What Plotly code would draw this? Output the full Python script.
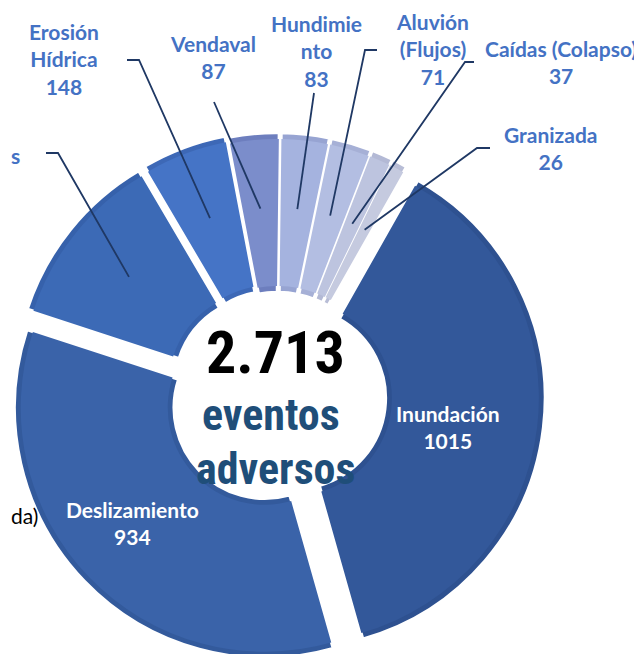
import numpy as np
import plotly.graph_objects as go

# ---------------- data ----------------
categories = ["Inundación", "Deslizamiento", "…s", "Erosión Hídrica", "Vendaval",
              "Hundimiento", "Aluvión (Flujos)", "Caídas (Colapso)", "Granizada"]
values = [1015, 934, 312, 148, 87, 83, 71, 37, 26]
display_names = ["Inundación", "Deslizamiento", "s", "Erosión<br>Hídrica", "Vendaval",
                 "Hundimie<br>nto", "Aluvión<br>(Flujos)", "Caídas (Colapso)", "Granizada"]
total_text = "2.713"
center_lines = ["eventos", "adversos"]
cut_text = "da)"

# ---------------- style / layout ----------------
OFF = 8                    # page body margin (px)
W, H = 642, 672
CX, CY = 277, 396          # pie centre (screen px)
R = 250                    # outer radius (px)
R_IN = 91                  # inner radius (px)
BORDER = 6
ROT = 29.5
pull_px = [18, 17, 15, 15, 13, 13, 13, 13, 13]
dark = ['#2E5190', '#335A9C', '#3661AB', '#3D68B6', '#6D7EBE', '#97A4D2', '#A6B0D6', '#B3B9D5', '#B8BDD6']
light = ['#33589A', '#3A63A9', '#3C6AB6', '#4574C6', '#7B8DCB', '#A5B3DF', '#B3BEE2', '#BDC4DF', '#C5CADF']
LABEL_BLUE = '#4472C4'
LEADER = '#1F3864'
FONT = 'Lato'
COND = 'Roboto Condensed, DejaVu Sans Condensed, Liberation Sans Narrow, sans-serif'


def px2paper(x, y):
    return (x - OFF) / W, 1 - (y - OFF) / H


def domain_for(radius, pulls):
    s = radius + max(pulls)
    cx, cy = CX - OFF, CY - OFF
    return dict(x=[(cx - s) / W, (cx + s) / W], y=[1 - (cy + s) / H, 1 - (cy - s) / H])


fig = go.Figure()
# base (border colour)
fig.add_trace(go.Pie(
    labels=categories, values=values, sort=False, direction='clockwise', rotation=ROT,
    hole=R_IN / R, pull=[p / R for p in pull_px], domain=domain_for(R, pull_px),
    marker=dict(colors=dark, line=dict(color='white', width=2.5)),
    textinfo='none', hoverinfo='label+value', showlegend=False))
# inner (lighter face)
R2 = R - BORDER
fig.add_trace(go.Pie(
    labels=categories, values=values, sort=False, direction='clockwise', rotation=ROT,
    hole=(R_IN + BORDER) / R2, pull=[p / R2 for p in pull_px], domain=domain_for(R2, pull_px),
    marker=dict(colors=light, line=dict(width=0)),
    textinfo='none', hoverinfo='label+value', showlegend=False))

# ---------------- leader lines ----------------
vals = np.array(values, dtype=float)
cum = np.cumsum(vals)
mid_deg = ROT + (cum - vals / 2) / vals.sum() * 360
stubs = {
    2: [(46, 153), (58, 153)],
    3: [(127, 60), (139, 60)],
    4: [(214, 102)],
    5: [(314, 93)],
    6: [(377, 50), (365, 50)],
    7: [(474, 62), (465, 62)],
    8: [(490, 148), (477, 148)],
}
shapes = []
for i, pts in stubs.items():
    a = np.deg2rad(mid_deg[i])
    rr = pull_px[i] + 0.70 * R
    ex, ey = CX + rr * np.sin(a), CY - rr * np.cos(a)
    allp = pts + [(ex, ey)]
    path = ""
    for k, (x, y) in enumerate(allp):
        px, py = px2paper(x, y)
        path += ("M" if k == 0 else " L") + f" {px:.5f} {py:.5f}"
    shapes.append(dict(type='path', path=path, xref='paper', yref='paper',
                       line=dict(color=LEADER, width=1.8)))

# ---------------- annotations ----------------
ann = []


def add_text(text, x, y, size, color, family=FONT, xanchor='center', bold=True):
    px, py = px2paper(x, y)
    ann.append(dict(text=(f"<b>{text}</b>" if bold else text), x=px, y=py, xref='paper', yref='paper',
                    xanchor=xanchor, yanchor='middle', showarrow=False,
                    font=dict(family=family, size=size, color=color)))


label_pos = {2: (9, 155, 'left'), 3: (64, 59, 'center'), 4: (213, 57, 'center'),
             5: (316, 51, 'center'), 6: (432, 49, 'center'), 7: (561, 62, 'center'),
             8: (551, 148, 'center')}
for i, (x, y, xa) in label_pos.items():
    txt = display_names[i] if i == 2 else f"{display_names[i]}<br>{values[i]}"
    add_text(txt, x, y, 21, LABEL_BLUE, xanchor=xa)

add_text(f"{display_names[0]}<br>{values[0]}", 448, 427, 21, 'white')
add_text(f"{display_names[1]}<br>{values[1]}", 132, 523, 21, 'white')
add_text(cut_text, 9, 515, 21, 'black', xanchor='left', bold=False)

add_text(total_text, 275, 353, 60, 'black', family=COND)
add_text(center_lines[0], 271, 415, 44, '#1F4E79', family=COND)
add_text(center_lines[1], 275, 469, 44, '#1F4E79', family=COND)

fig.update_layout(width=W, height=H, margin=dict(l=0, r=0, t=0, b=0),
                  paper_bgcolor='white', plot_bgcolor='white',
                  shapes=shapes, annotations=ann, showlegend=False)
fig.write_html("out.html")
